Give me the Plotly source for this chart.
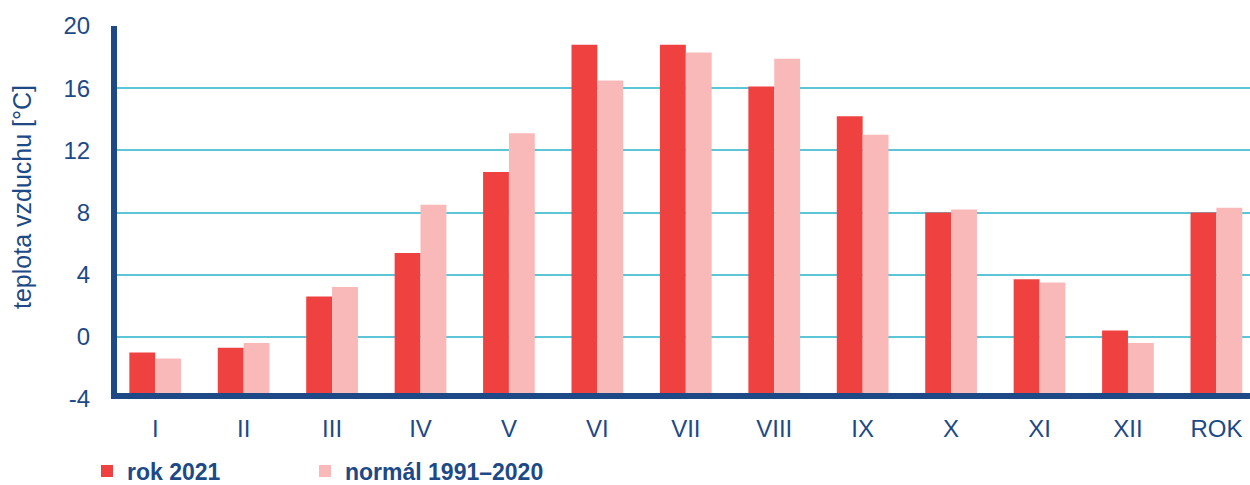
import plotly.graph_objects as go

# Monthly mean air temperature: year 2021 vs. 1991–2020 normal
months = ["I", "II", "III", "IV", "V", "VI", "VII", "VIII", "IX", "X", "XI", "XII", "ROK"]
rok_2021 = [-1.0, -0.7, 2.6, 5.4, 10.6, 18.8, 18.8, 16.1, 14.2, 8.0, 3.7, 0.4, 8.0]
normal_1991_2020 = [-1.4, -0.4, 3.2, 8.5, 13.1, 16.5, 18.3, 17.9, 13.0, 8.2, 3.5, -0.4, 8.3]

y_min, y_max = -4, 20
y_ticks = [-4, 0, 4, 8, 12, 16, 20]

DARK_BLUE = "#1d4a86"
RED = "#ef4240"
PINK = "#f9b9b9"
GRID = "#5cc6d6"
FONT = "Liberation Sans, Arial, sans-serif"

fig = go.Figure()
# bars rise from the bottom of the value axis (-4 °C)
fig.add_trace(go.Bar(
    x=months, y=[v - y_min for v in rok_2021], base=y_min,
    name="<b>rok 2021</b>", marker=dict(color=RED, line=dict(width=0)),
    customdata=rok_2021, hovertemplate="%{x}: %{customdata} °C<extra>rok 2021</extra>",
    legend="legend",
))
fig.add_trace(go.Bar(
    x=months, y=[v - y_min for v in normal_1991_2020], base=y_min,
    name="<b>normál 1991–2020</b>", marker=dict(color=PINK, line=dict(width=0)),
    customdata=normal_1991_2020, hovertemplate="%{x}: %{customdata} °C<extra>normál 1991–2020</extra>",
    legend="legend2",
))

legend_style = dict(
    orientation="h", xref="container", yref="container", xanchor="left",
    yanchor="middle", y=0.029, font=dict(family=FONT, size=23, color=DARK_BLUE),
    bgcolor="rgba(0,0,0,0)", borderwidth=0,
)

fig.update_layout(
    width=1250, height=485,
    margin=dict(l=111, r=0, t=26, b=86, autoexpand=False),
    paper_bgcolor="white", plot_bgcolor="white",
    barmode="group", bargap=0.415, bargroupgap=0,
    font=dict(family=FONT, size=24, color=DARK_BLUE),
    showlegend=True,
    legend=dict(legend_style, x=0.0696),
    legend2=dict(legend_style, x=0.244),
    xaxis=dict(
        type="category", range=[-0.5, 12.38],
        showgrid=False, zeroline=False,
        anchor="free", position=0.008,
        showline=True, linecolor=DARK_BLUE, linewidth=6,
        ticks="", ticklabelstandoff=9,
        tickfont=dict(family=FONT, size=24, color=DARK_BLUE),
    ),
    yaxis=dict(
        range=[y_min, y_max], tickvals=y_ticks, ticktext=[str(t) for t in y_ticks],
        showgrid=True, gridcolor=GRID, gridwidth=2, zeroline=False,
        anchor="free", position=0.0026,
        showline=True, linecolor=DARK_BLUE, linewidth=6,
        ticks="", ticklabelstandoff=16,
        tickfont=dict(family=FONT, size=24, color=DARK_BLUE),
    ),
    # value-axis title, rotated and placed left of the tick labels
    annotations=[dict(
        text="teplota vzduchu [°C]", textangle=-90, showarrow=False,
        xref="paper", yref="paper", x=-0.0781, y=0.5416,
        xanchor="center", yanchor="middle",
        font=dict(family=FONT, size=25, color=DARK_BLUE),
    )],
)

fig.write_html("out.html")
